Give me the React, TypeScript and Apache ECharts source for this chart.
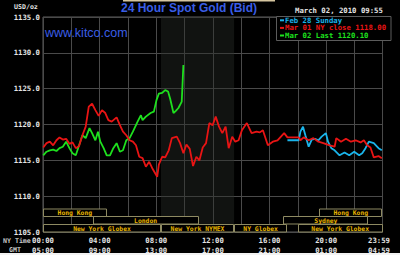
import React, { useEffect, useRef } from "react";
import * as echarts from "echarts";

// minutes after 00:00 NY time, price in USD/oz
const feb28Sunday: [number, number][] = [
  [1036, 1117.8], [1084, 1117.8], [1091, 1119.0], [1102, 1119.7], [1112, 1118.5], [1126, 1116.9],
  [1139, 1117.9], [1153, 1118.0], [1167, 1117.8], [1181, 1118.3], [1199, 1118.8], [1208, 1117.6],
  [1222, 1116.7], [1236, 1116.4], [1257, 1115.7], [1278, 1116.1], [1298, 1115.7], [1319, 1116.2],
  [1340, 1115.7], [1353, 1116.0], [1367, 1116.7], [1381, 1117.6], [1402, 1117.4], [1422, 1116.7],
  [1436, 1116.4],
];

const mar01NyClose: [number, number][] = [
  [1, 1116.8], [15, 1117.4], [29, 1117.6], [43, 1117.1], [57, 1117.8], [70, 1118.2], [84, 1117.9],
  [98, 1118.0], [112, 1117.3], [125, 1117.5], [139, 1116.7], [153, 1117.0], [167, 1118.5],
  [181, 1119.7], [194, 1122.5], [208, 1122.9], [222, 1122.0], [236, 1121.2], [250, 1122.0],
  [264, 1121.6], [277, 1120.6], [291, 1120.4], [312, 1121.0], [326, 1119.9], [339, 1119.0],
  [353, 1118.5], [367, 1117.8], [381, 1117.6], [394, 1117.1], [408, 1115.5], [422, 1115.3],
  [436, 1114.1], [450, 1114.8], [463, 1113.9], [484, 1112.7], [491, 1114.4], [505, 1115.5],
  [518, 1115.4], [533, 1116.4], [546, 1118.1], [567, 1118.3], [581, 1117.4], [595, 1116.0],
  [608, 1117.2], [622, 1116.6], [636, 1114.2], [650, 1115.5], [663, 1115.0], [677, 1116.8],
  [691, 1117.4], [705, 1120.2], [719, 1119.9], [732, 1121.1], [746, 1119.7], [760, 1118.8],
  [774, 1119.7], [787, 1116.7], [802, 1118.3], [815, 1117.6], [829, 1117.8], [843, 1119.2],
  [864, 1120.2], [884, 1118.8], [905, 1119.0], [919, 1118.9], [932, 1119.2], [953, 1117.1],
  [974, 1117.6], [994, 1117.8], [1022, 1118.8], [1036, 1118.2], [1084, 1118.2], [1091, 1117.8],
  [1105, 1118.2], [1126, 1117.8], [1146, 1118.1], [1167, 1117.6], [1188, 1117.4], [1215, 1117.1],
  [1236, 1116.9], [1243, 1118.1], [1263, 1117.6], [1284, 1118.0], [1305, 1117.6], [1325, 1117.8],
  [1346, 1117.5], [1360, 1117.8], [1374, 1117.1], [1388, 1116.8], [1402, 1115.4], [1422, 1115.6],
  [1436, 1115.3],
];

const mar02Last: [number, number][] = [
  [1, 1115.7], [15, 1116.2], [29, 1116.4], [43, 1116.5], [57, 1116.3], [70, 1116.7], [84, 1116.9],
  [98, 1117.6], [112, 1116.7], [125, 1116.0], [139, 1115.7], [153, 1117.1], [167, 1118.5],
  [181, 1118.1], [197, 1119.5], [208, 1118.8], [222, 1117.8], [233, 1119.0], [243, 1117.6],
  [257, 1116.7], [270, 1115.7], [284, 1115.7], [298, 1116.7], [312, 1117.4], [326, 1116.2],
  [339, 1116.4], [353, 1117.8], [367, 1118.1], [381, 1119.0], [401, 1120.4], [415, 1121.3],
  [422, 1120.6], [436, 1121.1], [456, 1121.6], [470, 1121.8], [481, 1123.4], [491, 1124.3],
  [505, 1124.4], [518, 1124.8], [530, 1124.6], [539, 1123.6], [553, 1121.6], [563, 1121.9],
  [574, 1122.3], [588, 1123.2], [595, 1128.3],
];

const legendNames = ["Feb 28 Sunday", "Mar 01 NY close 1118.00", "Mar 02 Last 1120.10"];
const legendColors = ["#1ab4ea", "#e81414", "#1ee01e"];

const sessionNames = ["Hong Kong", "Hong Kong", "London", "Sydney", "New York Globex", "New York NYMEX", "NY Globex", "New York Globex"];
const sessionStart = [0, 1170, 210, 1018, 0, 500, 810, 1080];
const sessionEnd = [270, 1439, 660, 1380, 500, 810, 1035, 1439];
const sessionRow = [0, 0, 1, 1, 2, 2, 2, 2];

const nymexShade = [500, 810];
const yMin = 1105;
const yMax = 1135;

const pad = (n: number) => (n < 10 ? "0" + n : "" + n);
const hm = (m: number) => pad(Math.floor(m / 60) % 24) + ":" + pad(m % 60);

export default function App() {
  const ref = useRef<HTMLDivElement>(null);
  useEffect(() => {
    document.body.style.margin = "0";
    const chart = echarts.init(ref.current!, null, { renderer: "svg" });
    const mono = "DejaVu Sans Mono";
    const rowTop = [209, 216.5, 224.5];
    const rowH = 7.5;
    chart.setOption({
      animation: false,
      backgroundColor: "#000",
      title: {
        text: "24 Hour Spot Gold (Bid)",
        left: 121,
        top: 2,
        padding: 0,
        textStyle: { color: "#3a5ee6", fontSize: 12, fontWeight: "bold", fontFamily: "Liberation Sans" },
      },
      grid: {
        left: 43, right: 9, top: 17, bottom: 23,
        show: true, borderColor: "#5c5c5c", borderWidth: 1, backgroundColor: "#000",
      },
      legend: {
        orient: "vertical",
        left: 280,
        top: 16.5,
        padding: 0,
        itemGap: 0,
        itemWidth: 4,
        itemHeight: 2,
        icon: "rect",
        selectedMode: false,
        z: 20,
        data: legendNames.map((n, i) => ({ name: n, textStyle: { color: legendColors[i] }, itemStyle: { color: legendColors[i] } })),
        textStyle: { fontFamily: mono, fontWeight: "bold", fontSize: 7.3, lineHeight: 7.6, padding: [0, 0, 0, -4] },
      },
      xAxis: {
        type: "value",
        min: 0,
        max: 1439,
        interval: 120,
        axisLine: { show: false },
        axisTick: { show: false },
        splitLine: { show: true, lineStyle: { color: "#4a4a4a", width: 1 } },
        axisLabel: {
          color: "#e4e4e4",
          fontFamily: mono,
          fontWeight: "bold",
          fontSize: 7.3,
          lineHeight: 9.5,
          margin: 4,
          showMaxLabel: true,
          formatter: (v: number) => {
            if (v === 1439) return "{l|" + hm(v) + "}\n{l|" + hm(v + 300) + "}";
            if (v % 240 !== 0) return "";
            return hm(v) + "\n" + hm(v + 300);
          },
          rich: { l: { padding: [0, 7, 0, 0], color: "#e4e4e4", fontFamily: mono, fontWeight: "bold", fontSize: 7.3, lineHeight: 9.5 } },
        },
      },
      yAxis: {
        type: "value",
        min: yMin,
        max: yMax,
        interval: 5,
        axisLine: { show: false },
        axisTick: { show: false },
        splitLine: { show: true, lineStyle: { color: "#4a4a4a", width: 1 } },
        axisLabel: {
          color: "#e4e4e4",
          fontFamily: mono,
          fontWeight: "bold",
          fontSize: 7.3,
          margin: 3,
          formatter: (v: number) => v.toFixed(1),
        },
      },
      graphic: [
        { type: "rect", z: 15, shape: { x: 276.5, y: 16.5, width: 114.5, height: 24 }, style: { fill: "#000", stroke: "#5c5c5c", lineWidth: 1 } },
        { type: "text", z: 15, x: 45, y: 32.5, style: { text: "www.kitco.com", fill: "#3a5ee6", font: '12.5px "Liberation Sans"', verticalAlign: "middle" } },
        { type: "text", z: 15, x: 295, y: 10.5, style: { text: "March 02, 2010 09:55", fill: "#e4e4e4", font: 'bold 7.3px "DejaVu Sans Mono"', verticalAlign: "middle" } },
        { type: "text", z: 15, x: 14, y: 7, style: { text: "USD/oz", fill: "#e4e4e4", font: 'bold 6.6px "DejaVu Sans Mono"', verticalAlign: "middle" } },
        { type: "text", z: 15, x: 3, y: 240.5, style: { text: "NY Time", fill: "#c8c8c8", font: 'bold 6.6px "DejaVu Sans Mono"', verticalAlign: "middle" } },
        { type: "text", z: 15, x: 9, y: 250, style: { text: "GMT", fill: "#c8c8c8", font: 'bold 6.6px "DejaVu Sans Mono"', verticalAlign: "middle" } },
        { type: "rect", z: 15, shape: { x: 0, y: 253, width: 400, height: 2 }, style: { fill: "#f2f2f2" } },
        { type: "rect", z: 15, shape: { x: 123, y: 0, width: 152, height: 1.5 }, style: { fill: "#d6c6a0" } },
      ],
      series: [
        {
          name: legendNames[2], type: "line", data: mar02Last, showSymbol: false, z: 3,
          lineStyle: { color: legendColors[2], width: 1.8 }, itemStyle: { color: legendColors[2] },
        },
        {
          name: legendNames[0], type: "line", data: feb28Sunday, showSymbol: false, z: 4,
          lineStyle: { color: legendColors[0], width: 1.8 }, itemStyle: { color: legendColors[0] },
        },
        {
          name: legendNames[1], type: "line", data: mar01NyClose, showSymbol: false, z: 5,
          lineStyle: { color: legendColors[1], width: 1.8 }, itemStyle: { color: legendColors[1] },
          markArea: {
            silent: true,
            itemStyle: { color: "rgba(40,46,40,0.42)" },
            data: [[{ xAxis: nymexShade[0] }, { xAxis: nymexShade[1] }]],
          },
        },
        {
          type: "custom",
          name: "sessions",
          z: 8,
          clip: false,
          encode: { x: [0, 1], y: 2 },
          data: sessionNames.map((n, i) => ({ name: n, value: [sessionStart[i], sessionEnd[i], yMin] })),
          renderItem: (params: any, api: any) => {
            const i = params.dataIndex;
            const x0 = api.coord([api.value(0), yMin])[0];
            const x1 = api.coord([api.value(1), yMin])[0];
            const top = rowTop[sessionRow[i]];
            return {
              type: "group",
              children: [
                {
                  type: "rect",
                  shape: { x: Math.round(x0) + 0.5, y: top, width: Math.round(x1 - x0) - 1, height: rowH },
                  style: { fill: "#000", stroke: "#8e8a62", lineWidth: 1 },
                },
                {
                  type: "text",
                  style: {
                    text: sessionNames[i], x: (x0 + x1) / 2, y: top + rowH / 2 + 0.5,
                    align: "center", verticalAlign: "middle",
                    fill: "#e8b400", font: 'bold 6.4px "DejaVu Sans Mono"',
                  },
                },
              ],
            };
          },
        },
      ],
    });
    return () => chart.dispose();
  }, []);
  return <div ref={ref} style={{ position: "absolute", left: 0, top: 0, width: 400, height: 255 }} />;
}
